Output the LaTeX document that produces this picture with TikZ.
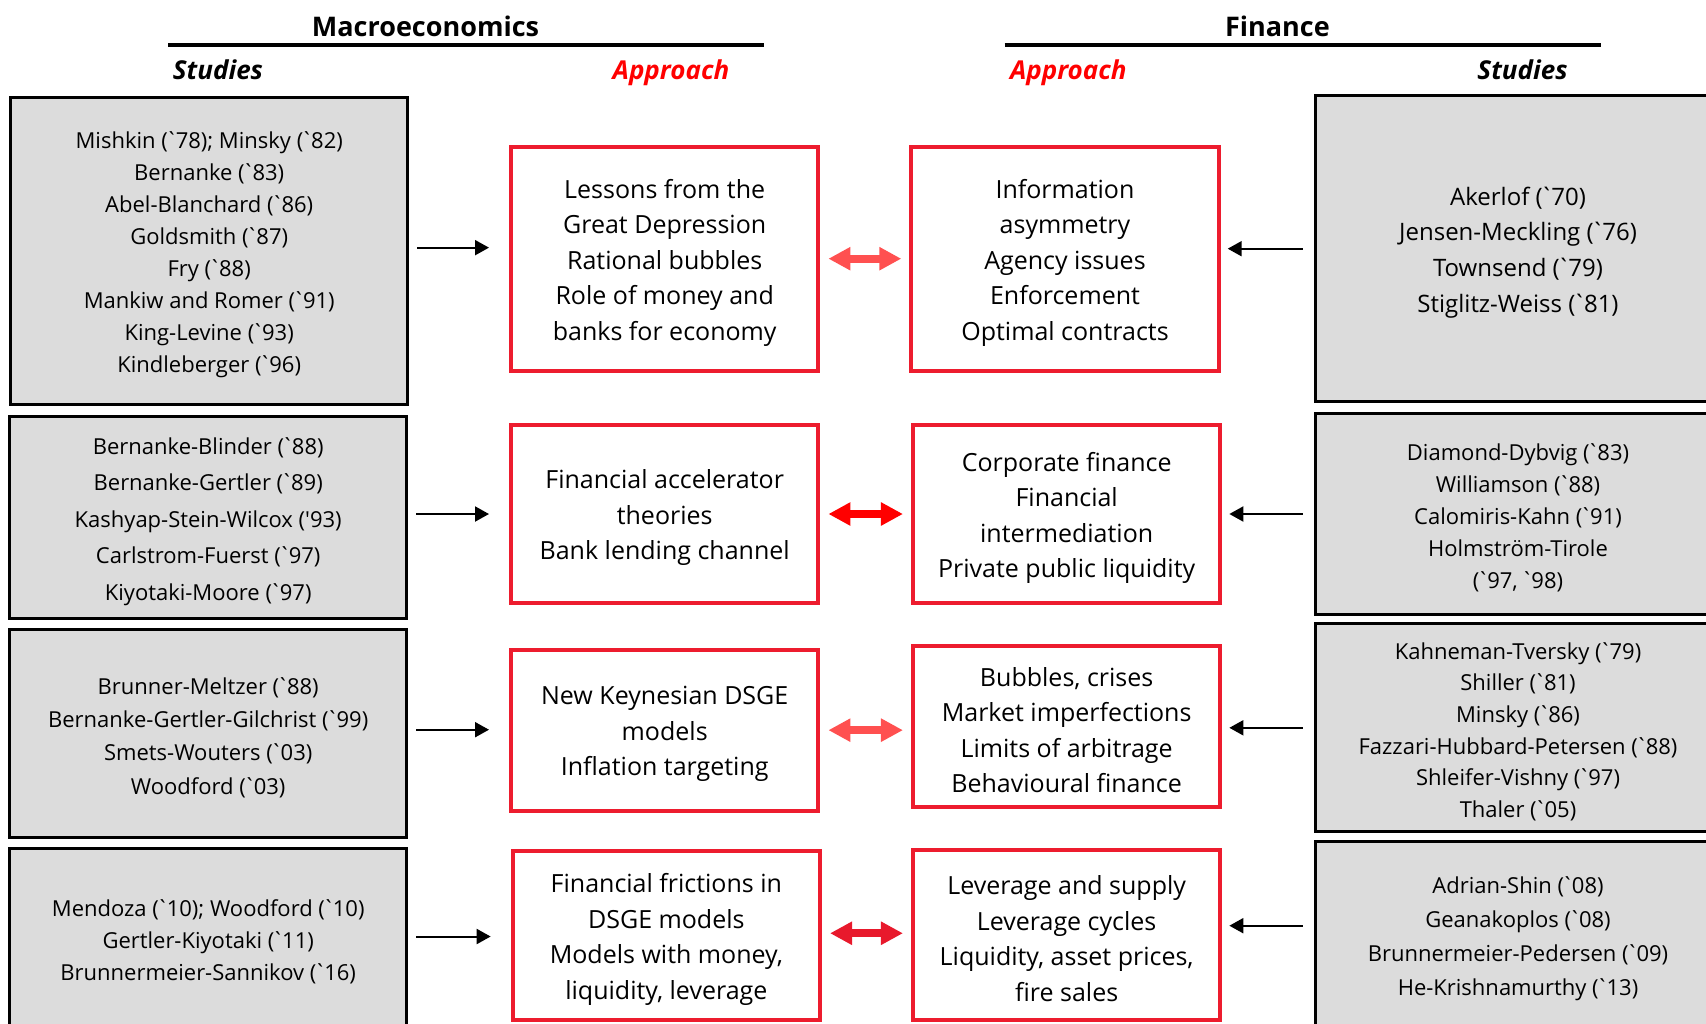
\documentclass[tikz,border=0pt]{standalone}
\usepackage{fontspec}
\setmainfont{Open Sans}[Ligatures=TeXOff]
\usetikzlibrary{arrows.meta}
\definecolor{boxgray}{HTML}{DCDCDC}
\definecolor{boxred}{HTML}{ED1C2E}
\definecolor{headred}{HTML}{FF0000}
\definecolor{linklight}{HTML}{FF5050}
\definecolor{linkdark}{HTML}{E8192C}
% grave accent before the year, set tight
\newcommand{\bq}{\kern-0.12em`\kern-0.1em}
% strut on the first line, pushes the text block a little down
\newcommand{\lt}{\rule{0pt}{\dimexpr\fontcharht\font`(+4.4pt\relax}}

\begin{document}
\begin{tikzpicture}[
    x=0.5pt, y=-0.5pt,
    title/.style={font=\bfseries\fontsize{13.5}{15}\selectfont},
    subtitle/.style={font=\bfseries\itshape\fontsize{13}{15}\selectfont, text depth=0pt},
    study/.style={draw=black, fill=boxgray, line width=1.5pt, align=center, inner sep=0pt, font={\fontsize{11}{16}\selectfont}},
    approach/.style={draw=boxred, fill=white, line width=2pt, align=center, inner sep=0pt, minimum width=153.7pt, font={\fontsize{12.5}{17.75}\selectfont}},
    arrow/.style={-{Triangle[length=7pt, width=7.5pt]}, line width=1pt},
    link/.style={{Triangle[length=11pt, width=11pt]}-{Triangle[length=11pt, width=11pt]}, line width=4pt, shorten <=4pt, shorten >=4pt}
]
    \useasboundingbox (0,0) rectangle (1706,1023);

    % Headers
    \node[title] (macro) at (425.5,26.7) {Macroeconomics};
    \node[title] (fin) at (1277.4,26.7) {Finance};
    \draw[line width=2pt] (168,45) -- (764,45);
    \draw[line width=2pt] (1004.5,45) -- (1600.6,45);
    \node[subtitle] (studL) at (218,70) {Studies};
    \node[subtitle, text=headred] (apprL) at (671,70) {Approach};
    \node[subtitle, text=headred] (apprR) at (1068.3,70) {Approach};
    \node[subtitle] (studR) at (1522.5,70) {Studies};

    % Macro studies
    \node[study, minimum width=198.4pt, minimum height=153.35pt] (sL1) at (209.2,250.65) {\lt Mishkin (\bq 78); Minsky (\bq 82)\\Bernanke (\bq 83)\\Abel-Blanchard (\bq 86)\\Goldsmith (\bq 87)\\Fry (\bq 88)\\Mankiw and Romer (\bq 91)\\King-Levine (\bq 93)\\Kindleberger (\bq 96)};
    \node[study, minimum width=198.4pt, minimum height=100.9pt, font={\fontsize{11}{18.2}\selectfont}] (sL2) at (208.2,517.6) {\lt Bernanke-Blinder (\bq 88)\\Bernanke-Gertler (\bq 89)\\Kashyap-Stein-Wilcox ('93)\\Carlstrom-Fuerst (\bq 97)\\Kiyotaki-Moore (\bq 97)};
    \node[study, minimum width=198.4pt, minimum height=104.1pt, font={\fontsize{11}{16.7}\selectfont}] (sL3) at (208.2,733.7) {\lt Brunner-Meltzer (\bq 88)\\Bernanke-Gertler-Gilchrist (\bq 99)\\Smets-Wouters (\bq 03)\\Woodford (\bq 03)};
    \node[study, minimum width=198.4pt, minimum height=89.9pt] (sL4) at (208.2,938.1) {\lt Mendoza (\bq 10); Woodford (\bq 10)\\Gertler-Kiyotaki (\bq 11)\\Brunnermeier-Sannikov (\bq 16)};

    % Macro approach
    \node[approach, minimum height=112pt] (aL1) at (664.7,258.7) {\lt Lessons from the\\Great Depression\\Rational bubbles\\Role of money and\\banks for economy};
    \node[approach, minimum height=89.4pt] (aL2) at (664.7,514) {\lt Financial accelerator\\theories\\Bank lending channel};
    \node[approach, minimum height=80.65pt] (aL3) at (664.7,730.15) {\lt New Keynesian DSGE\\models\\Inflation targeting};
    \node[approach, minimum height=84.35pt] (aL4) at (666.35,935.65) {\lt Financial frictions in\\DSGE models\\Models with money,\\liquidity, leverage};

    % Finance approach
    \node[approach, minimum height=112pt] (aR1) at (1065,258.7) {\lt Information\\asymmetry\\Agency issues\\Enforcement\\Optimal contracts};
    \node[approach, minimum height=89.4pt] (aR2) at (1066.65,514) {\lt Corporate finance\\Financial\\intermediation\\Private public liquidity};
    \node[approach, minimum height=80.65pt] (aR3) at (1066.65,726.15) {\lt Bubbles, crises\\Market imperfections\\Limits of arbitrage\\Behavioural finance};
    \node[approach, minimum height=85.15pt] (aR4) at (1066.65,934.85) {\lt Leverage and supply\\Leverage cycles\\Liquidity, asset prices,\\fire sales};

    % Finance studies
    \node[study, minimum width=203pt, minimum height=153pt, font={\fontsize{12}{17.8}\selectfont}] (sR1) at (1518,248.7) {\lt Akerlof (\bq 70)\\Jensen-Meckling (\bq 76)\\Townsend (\bq 79)\\Stiglitz-Weiss (\bq 81)};
    \node[study, minimum width=203pt, minimum height=100.5pt] (sR2) at (1518,514) {\lt Diamond-Dybvig (\bq 83)\\Williamson (\bq 88)\\Calomiris-Kahn (\bq 91)\\Holmstr\"om-Tirole\\(\bq 97, \bq 98)};
    \node[study, minimum width=203pt, minimum height=104.1pt, font={\fontsize{11}{15.8}\selectfont}] (sR3) at (1518,727.8) {\lt Kahneman-Tversky (\bq 79)\\Shiller (\bq 81)\\Minsky (\bq 86)\\Fazzari-Hubbard-Petersen (\bq 88)\\Shleifer-Vishny (\bq 97)\\Thaler (\bq 05)};
    \node[study, minimum width=203pt, minimum height=93.1pt, font={\fontsize{11}{16.9}\selectfont}] (sR4) at (1518,934.9) {\lt Adrian-Shin (\bq 08)\\Geanakoplos (\bq 08)\\Brunnermeier-Pedersen (\bq 09)\\He-Krishnamurthy (\bq 13)};

    % Arrows studies -> approach
    \draw[arrow, shorten <=4pt, shorten >=10pt] ([yshift=1.5pt]sL1.east) -- ([yshift=1.5pt]sL1.east -| aL1.west);
    \draw[arrow, shorten <=4pt, shorten >=10pt] ([yshift=1.8pt]sL2.east) -- ([yshift=1.8pt]sL2.east -| aL2.west);
    \draw[arrow, shorten <=4pt, shorten >=10pt] ([yshift=2pt]sL3.east) -- ([yshift=2pt]sL3.east -| aL3.west);
    \draw[arrow, shorten <=4pt, shorten >=10pt] ([yshift=0.8pt]sL4.east) -- ([yshift=0.8pt]sL4.east -| aL4.west);
    \draw[arrow, shorten <=5.5pt, shorten >=3.5pt] (sR1.west) -- (sR1.west -| aR1.east);
    \draw[arrow, shorten <=5.5pt, shorten >=3.5pt] (sR2.west) -- (sR2.west -| aR2.east);
    \draw[arrow, shorten <=5.5pt, shorten >=3.5pt] (sR3.west) -- (sR3.west -| aR3.east);
    \draw[arrow, shorten <=5.5pt, shorten >=3.5pt] ([yshift=4.6pt]sR4.west) -- ([yshift=4.6pt]sR4.west -| aR4.east);

    % Links between the two approaches
    \draw[link, linklight] (aL1.east) -- (aL1.east -| aR1.west);
    \draw[link, headred] (aL2.east) -- (aL2.east -| aR2.west);
    \draw[link, linklight] (aL3.east) -- (aL3.east -| aR3.west);
    \draw[link, linkdark] ([yshift=1.2pt]aL4.east) -- ([yshift=1.2pt]aL4.east -| aR4.west);
\end{tikzpicture}
\end{document}
